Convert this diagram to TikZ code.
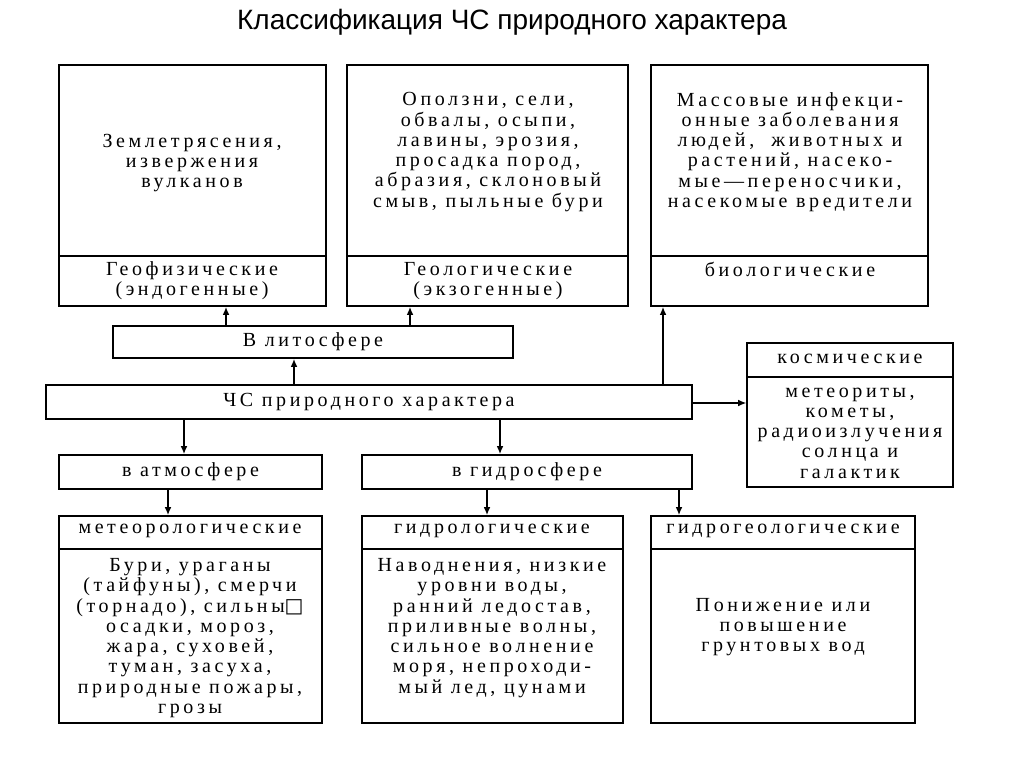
\documentclass[tikz,border=0pt]{standalone}
\usepackage{fontspec}
\setmainfont{Liberation Serif}[LetterSpace=18]
\newfontfamily\titlefont{Liberation Sans}
\newfontfamily\symfont{DejaVu Sans}
\usetikzlibrary{arrows.meta,fit}

\tikzset{
  box/.style={draw, line width=1.2pt, inner sep=0pt},
  txt/.style={align=center, inner sep=0pt, font=\fontsize{15}{15.2}\selectfont},
  arr/.style={-{Latex[length=6pt,width=5pt]}, line width=1.2pt},
  divider/.style={line width=1.2pt}
}

\begin{document}
\begin{tikzpicture}[x=0.75pt,y=-0.75pt]
	\useasboundingbox (0,0) rectangle (1024,767);

	% Title
	\node[font=\titlefont\fontsize{21}{24}\selectfont] (title) at (512,22) {Классификация ЧС природного характера};

	% Upper row
	\node[box, fit={(59,65) (326,306)}] (geo) {};
	\node[box, fit={(347,65) (628,306)}] (geol) {};
	\node[box, fit={(651,65) (928,306)}] (bio) {};
	\draw[divider] (geo.west |- 0,256) -- (geo.east |- 0,256);
	\draw[divider] (geol.west |- 0,256) -- (geol.east |- 0,256);
	\draw[divider] (bio.west |- 0,256) -- (bio.east |- 0,256);

	\node[txt] (geotext) at (192,163) {Землетрясения,\\извержения\\вулканов};
	\node[txt] (geolabel) at (192,281) {Геофизические\\(эндогенные)};
	\node[txt] (geoltext) at (488,152) {Оползни, сели,\\обвалы, осыпи,\\лавины, эрозия,\\просадка пород,\\абразия, склоновый\\смыв, пыльные бури};
	\node[txt] (geollabel) at (488,281) {Геологические\\(экзогенные)};
	\node[txt] (biotext) at (790,152) {Массовые инфекци-\\онные заболевания\\людей,\ \ животных и\\растений, насеко-\\мые—переносчики,\\насекомые вредители};
	\node[txt] (biolabel) at (790,269) {биологические};

	% Middle
	\node[box, fit={(113,326) (513,358)}] (litho) {};
	\node[txt] (litholabel) at (litho.center) {В литосфере};
	\node[box, fit={(46,385) (692,419)}] (chs) {};
	\node[txt] (chslabel) at (chs.center) {ЧС природного характера};
	\node[box, fit={(747,343) (953,487)}] (cosmic) {};
	\draw[divider] (cosmic.west |- 0,377) -- (cosmic.east |- 0,377);
	\node[txt] (cosmiclabel) at (850,359) {космические};
	\node[txt] (cosmictext) at (850,433) {метеориты,\\кометы,\\радиоизлучения\\солнца и\\галактик};

	\node[box, fit={(59,455) (322,489)}] (atm) {};
	\node[txt] (atmlabel) at (atm.center) {в атмосфере};
	\node[box, fit={(362,455) (692,489)}] (hyd) {};
	\node[txt] (hydlabel) at (hyd.center) {в гидросфере};

	% Lower row
	\node[box, fit={(59,516) (322,723)}] (meteo) {};
	\node[box, fit={(362,516) (623,723)}] (hydrol) {};
	\node[box, fit={(651,516) (915,723)}] (hydrogeo) {};
	\draw[divider] (meteo.west |- 0,549) -- (meteo.east |- 0,549);
	\draw[divider] (hydrol.west |- 0,549) -- (hydrol.east |- 0,549);
	\draw[divider] (hydrogeo.west |- 0,549) -- (hydrogeo.east |- 0,549);

	\node[txt] (meteolabel) at (190,531) {метеорологические};
	\node[txt] (meteotext) at (190,638) {Бури, ураганы\\(тайфуны), смерчи\\(торнадо), сильны{\symfont □}\\осадки, мороз,\\жара, суховей,\\туман, засуха,\\природные пожары,\\грозы};
	\node[txt] (hydrollabel) at (492,531) {гидрологические};
	\node[txt] (hydroltext) at (492,628) {Наводнения, низкие\\уровни воды,\\ранний ледостав,\\приливные волны,\\сильное волнение\\моря, непроходи-\\мый лед, цунами};
	\node[txt] (hydrogeolabel) at (783,531) {гидрогеологические};
	\node[txt] (hydrogeotext) at (783,627) {Понижение или\\повышение\\грунтовых вод};

	% Arrows
	\draw[arr] (litho.north -| 226,0) -- (geo.south -| 226,0);
	\draw[arr] (litho.north -| 410,0) -- (geol.south -| 410,0);
	\draw[arr] (chs.north -| 294,0) -- (litho.south -| 294,0);
	\draw[arr] (chs.north -| 663,0) -- (bio.south -| 663,0);
	\draw[arr, line width=0.8pt] (chs.east |- 0,403) -- (cosmic.west |- 0,403);
	\draw[arr] (chs.south -| 184,0) -- (atm.north -| 184,0);
	\draw[arr] (chs.south -| 500,0) -- (hyd.north -| 500,0);
	\draw[arr] (atm.south -| 168,0) -- (meteo.north -| 168,0);
	\draw[arr] (hyd.south -| 487,0) -- (hydrol.north -| 487,0);
	\draw[arr] (hyd.south -| 679,0) -- (hydrogeo.north -| 679,0);
\end{tikzpicture}
\end{document}
